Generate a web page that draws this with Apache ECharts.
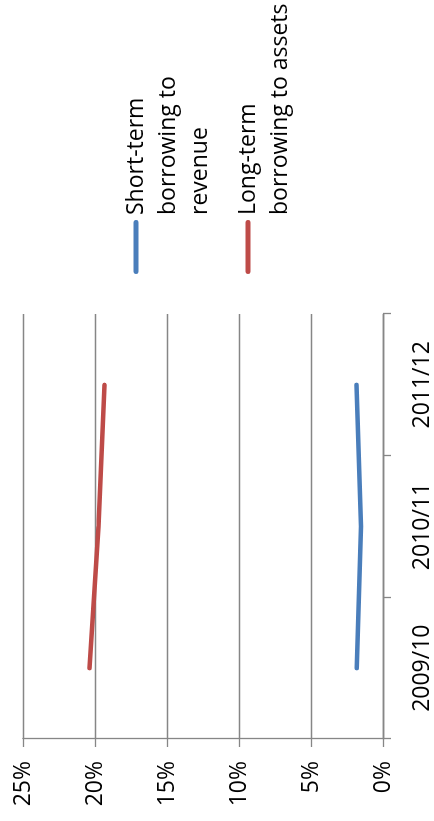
<!DOCTYPE html>
<html>
<head>
<meta charset="utf-8">
<script src="https://cdn.jsdelivr.net/npm/echarts@6/dist/echarts.min.js"></script>
<style>
html,body{margin:0;padding:0;background:#fff;width:434px;height:821px;overflow:hidden;}
#chart{position:absolute;left:0;top:0;width:821px;height:434px;transform-origin:0 0;transform:translate(0,821px) rotate(-90deg);}
</style>
</head>
<body>
<div id="chart"></div>
<script>
// Data (values in percent)
const categories = ['2009/10', '2010/11', '2011/12'];
const shortTermToRevenue = [1.82, 1.52, 1.84];
const longTermToAssets = [20.38, 19.75, 19.34];
const valueTicks = { min: 0, max: 25, interval: 5 };
const seriesNames = ['Short-term borrowing to revenue', 'Long-term borrowing to assets'];
const legendLines = [['Short-term', 'borrowing to', 'revenue'], ['Long-term', 'borrowing to assets']];

const FONT = '"Open Sans", sans-serif';
const GRAY = '#868686';
const LH = 32;
const chart = echarts.init(document.getElementById('chart'), null, { renderer: 'canvas' });

function legendFor(i, iconCenterY) {
  const lines = legendLines[i];
  // prepend blank lines so the first text line sits level with the icon
  const pad = new Array(lines.length - 1).fill(' ');
  const text = pad.concat(lines).join('\n');
  const total = pad.length + lines.length;
  return {
    show: true,
    data: [seriesNames[i]],
    left: 547,
    top: iconCenterY - total * LH / 2,
    padding: 0,
    itemWidth: 54,
    itemHeight: 5,
    icon: 'path://M2.5,0 L51.5,0 A2.5,2.5 0 0 1 51.5,5 L2.5,5 A2.5,2.5 0 0 1 2.5,0 Z',
    formatter: function () { return text; },
    textStyle: { fontFamily: FONT, fontSize: 23, color: '#000', lineHeight: LH }
  };
}

chart.setOption({
  backgroundColor: '#fff',
  animation: false,
  grid: { left: 82, right: 314, top: 23, bottom: 45, containLabel: false },
  legend: [legendFor(0, 136), legendFor(1, 248)],
  xAxis: {
    type: 'category',
    data: categories,
    boundaryGap: true,
    axisLine: { show: true, lineStyle: { color: GRAY, width: 1.3 } },
    axisTick: { show: true, length: 8, inside: false, lineStyle: { color: GRAY, width: 1.3 } },
    axisLabel: { margin: 28, fontFamily: FONT, fontSize: 23, color: '#000' },
    splitLine: { show: false }
  },
  yAxis: {
    type: 'value',
    min: valueTicks.min,
    max: valueTicks.max,
    interval: valueTicks.interval,
    axisLine: { show: true, lineStyle: { color: GRAY, width: 1.3 } },
    axisTick: { show: true, length: 8, inside: false, lineStyle: { color: GRAY, width: 1.3 } },
    axisLabel: { margin: 22, fontFamily: FONT, fontSize: 23, color: '#000', formatter: '{value}%' },
    splitLine: { show: true, lineStyle: { color: GRAY, width: 1.3 } }
  },
  series: [
    {
      name: seriesNames[0], type: 'line', data: shortTermToRevenue,
      symbol: 'none', showSymbol: false,
      itemStyle: { color: '#4A7EBB' },
      lineStyle: { color: '#4A7EBB', width: 4.5, cap: 'round', join: 'round' }
    },
    {
      name: seriesNames[1], type: 'line', data: longTermToAssets,
      symbol: 'none', showSymbol: false,
      itemStyle: { color: '#BE4B48' },
      lineStyle: { color: '#BE4B48', width: 4.5, cap: 'round', join: 'round' }
    }
  ]
});
</script>
</body>
</html>
